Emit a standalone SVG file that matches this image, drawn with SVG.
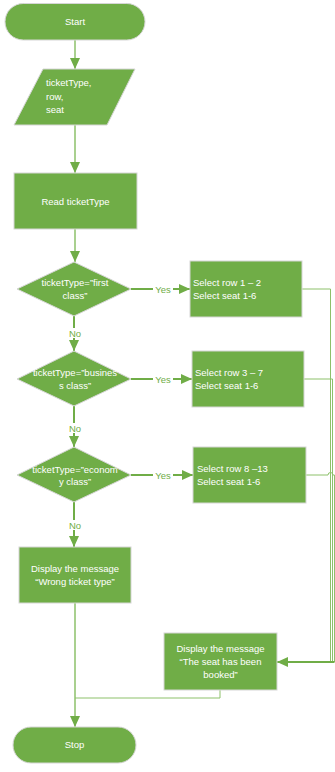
<svg xmlns="http://www.w3.org/2000/svg" width="335" height="772" viewBox="0 0 335 772">
<defs>
<style>
.shape{fill:#70AD47;stroke:#d6d6d6;stroke-width:1}
.t{font-family:"Liberation Sans",Arial,sans-serif;font-size:9.5px;fill:#ffffff}
.lbl{font-family:"Liberation Sans",Arial,sans-serif;font-size:9.5px;fill:#70AD47}
.c{fill:none;stroke:#8DC16A;stroke-width:1.5}
.y{fill:none;stroke:#70AD47;stroke-width:2}
.thin{fill:none;stroke:#8DC16A;stroke-width:1}
</style>
<marker id="ah" markerUnits="userSpaceOnUse" markerWidth="12" markerHeight="12" viewBox="0 0 12 12" refX="11" refY="6" orient="auto">
<path d="M0,1 L11,6 L0,11 Z" fill="#70AD47"/>
</marker>
</defs>
<rect width="335" height="772" fill="#ffffff"/>
<g id="connectors">
<line class="c" x1="75" y1="40" x2="75" y2="69" marker-end="url(#ah)"/>
<line class="c" x1="75" y1="125" x2="75" y2="173" marker-end="url(#ah)"/>
<line class="c" x1="75" y1="229" x2="75" y2="262" marker-end="url(#ah)"/>
<line class="y" x1="131" y1="289" x2="190" y2="289" marker-end="url(#ah)"/>
<line class="y" x1="74" y1="316" x2="74" y2="351" marker-end="url(#ah)"/>
<line class="y" x1="131" y1="379" x2="192" y2="379" marker-end="url(#ah)"/>
<line class="y" x1="74" y1="406" x2="74" y2="447" marker-end="url(#ah)"/>
<line class="y" x1="131" y1="475" x2="193" y2="475" marker-end="url(#ah)"/>
<line class="y" x1="74" y1="502" x2="74" y2="547" marker-end="url(#ah)"/>
<line class="c" x1="75" y1="603" x2="75" y2="727" marker-end="url(#ah)"/>
<polyline class="thin" points="220,690 220,698 75,698"/>
<polyline class="thin" points="302,289 330.5,289 330.5,662"/>
<polyline class="thin" points="304,379 332.5,379 332.5,662"/>
<path class="thin" d="M306,475 H328 A2.5,2.5 0 0 1 333,475 H334.5 V662"/>
<line class="y" x1="334.5" y1="662" x2="277" y2="662" marker-end="url(#ah)"/>
<rect x="153" y="284" width="20" height="10" fill="#ffffff"/>
<text class="lbl" x="163" y="292.5" text-anchor="middle">Yes</text>
<rect x="153" y="374" width="20" height="10" fill="#ffffff"/>
<text class="lbl" x="163" y="382.5" text-anchor="middle">Yes</text>
<rect x="153" y="470" width="20" height="10" fill="#ffffff"/>
<text class="lbl" x="163" y="478.5" text-anchor="middle">Yes</text>
<rect x="67" y="328" width="15" height="10" fill="#ffffff"/>
<text class="lbl" x="75" y="336.5" text-anchor="middle">No</text>
<rect x="67" y="423" width="15" height="10" fill="#ffffff"/>
<text class="lbl" x="75" y="431.5" text-anchor="middle">No</text>
<rect x="67" y="520" width="15" height="10" fill="#ffffff"/>
<text class="lbl" x="75" y="528.5" text-anchor="middle">No</text>
</g>
<g id="start">
<rect class="shape" x="5" y="3.5" width="140" height="36.5" rx="18.25"/>
<text class="t" x="75" y="25" text-anchor="middle">Start</text>
</g>
<g id="input">
<polygon class="shape" points="43,69 135,69 107,125 14,125"/>
<text class="t" x="46" y="86">ticketType,</text>
<text class="t" x="46" y="99.5">row,</text>
<text class="t" x="46" y="113">seat</text>
</g>
<g id="read">
<rect class="shape" x="14" y="173" width="123" height="56"/>
<text class="t" x="75.5" y="205" text-anchor="middle">Read ticketType</text>
</g>
<g id="dec1">
<polygon class="shape" points="74,262 131,289 74,316 17,289"/>
<text class="t" x="75" y="286" text-anchor="middle">ticketType=”first</text>
<text class="t" x="75" y="299" text-anchor="middle">class”</text>
</g>
<g id="dec2">
<polygon class="shape" points="74,351 131,379 74,406 17,379"/>
<text class="t" x="75" y="376" text-anchor="middle">ticketType=”busines</text>
<text class="t" x="75" y="389" text-anchor="middle">s class”</text>
</g>
<g id="dec3">
<polygon class="shape" points="74,447 131,475 74,502 17,475"/>
<text class="t" x="75" y="472.5" text-anchor="middle">ticketType=”econom</text>
<text class="t" x="75" y="485" text-anchor="middle">y class”</text>
</g>
<g id="first">
<rect class="shape" x="190" y="261" width="112" height="56"/>
<text class="t" x="193" y="286">Select row 1 – 2</text>
<text class="t" x="193" y="299">Select seat 1-6</text>
</g>
<g id="business">
<rect class="shape" x="192" y="351" width="112" height="56"/>
<text class="t" x="195" y="376">Select row 3 – 7</text>
<text class="t" x="195" y="389">Select seat 1-6</text>
</g>
<g id="economy">
<rect class="shape" x="193" y="447" width="113" height="56"/>
<text class="t" x="197" y="472">Select row 8 –13</text>
<text class="t" x="197" y="485">Select seat 1-6</text>
</g>
<g id="wrong">
<rect class="shape" x="19" y="547" width="112" height="56"/>
<text class="t" x="75" y="572" text-anchor="middle">Display the message</text>
<text class="t" x="75" y="585" text-anchor="middle">“Wrong ticket type”</text>
</g>
<g id="booked">
<rect class="shape" x="164" y="633" width="113" height="57"/>
<text class="t" x="220.5" y="652" text-anchor="middle">Display the message</text>
<text class="t" x="220.5" y="665" text-anchor="middle">“The seat has been</text>
<text class="t" x="220.5" y="678" text-anchor="middle">booked”</text>
</g>
<g id="stop">
<rect class="shape" x="13" y="727" width="123" height="36" rx="18"/>
<text class="t" x="74.5" y="748" text-anchor="middle">Stop</text>
</g>
</svg>
